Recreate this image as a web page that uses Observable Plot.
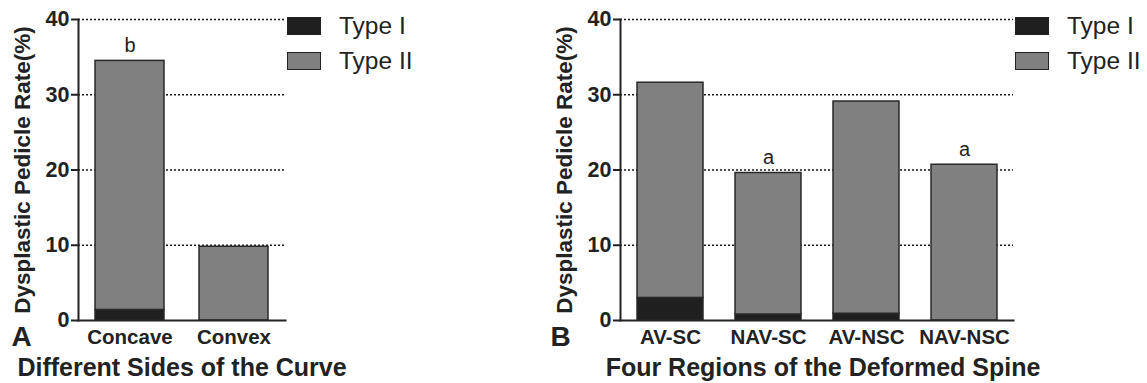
<!DOCTYPE html>
<html><head><meta charset="utf-8">
<script src="https://cdn.jsdelivr.net/npm/d3@7"></script>
<script src="https://cdn.jsdelivr.net/npm/@observablehq/plot@0.6"></script>
<style>
body{margin:0;background:#fff;}
#wrap{position:relative;width:1147px;height:383px;display:flex;font-family:"Liberation Sans",Arial,sans-serif;overflow:hidden;}
.sw{position:absolute;width:34px;height:18px;border:1.5px solid #222;box-sizing:border-box;}
.lt{position:absolute;font-size:24.5px;color:#222;line-height:24px;white-space:nowrap;}
</style></head><body><div id="wrap"></div>
<script>
// ---- data ----
const types = ["Type I", "Type II"];
const typeColors = ["#1f1f1f", "#808080"];
const yTicks = [0, 10, 20, 30, 40];
const gridValues = [10, 20, 30, 40];
const yLabel = "Dysplastic Pedicle Rate(%)";

const groupsA = ["Concave", "Convex"];
const typeIA = [1.4, 0];
const typeIIA = [33.1, 9.8];
const lettersA = ["b", ""];
const titleA = "Different Sides of the Curve";
const panelA = "A";

const groupsB = ["AV-SC", "NAV-SC", "AV-NSC", "NAV-NSC"];
const typeIB = [3.0, 0.8, 0.9, 0];
const typeIIB = [28.6, 18.8, 28.2, 20.7];
const lettersB = ["", "a", "", "a"];
const titleB = "Four Regions of the Deformed Spine";
const panelB = "B";

function panel(o) {
  const rows = [];
  o.groups.forEach((g, i) => {
    rows.push({g, type: types[0], v: o.t1[i]});
    rows.push({g, type: types[1], v: o.t2[i]});
  });
  const tops = o.groups.map((g, i) => ({g, total: o.t1[i] + o.t2[i], label: o.letters[i]}));
  return Plot.plot({
    width: o.width, height: 383,
    marginLeft: o.ml, marginRight: o.mr, marginTop: 19, marginBottom: 63,
    style: {fontFamily: '"Liberation Sans", Arial, sans-serif', color: "#222", background: "#fff", overflow: "visible"},
    x: {domain: o.groups, paddingInner: o.pi, paddingOuter: o.po, label: null},
    y: {domain: [0, 40], label: null},
    color: {domain: types, range: typeColors},
    marks: [
      Plot.ruleY(gridValues, {stroke: "#1a1a1a", strokeWidth: 1.5, strokeDasharray: "2,2"}),
      Plot.barY(rows.filter(d => d.v > 0), {x: "g", y: "v", fill: "type", stroke: "#2a2a2a", strokeWidth: 1.5}),
      Plot.frame({anchor: "left", stroke: "#222", strokeWidth: 2}),
      Plot.frame({anchor: "bottom", stroke: "#222", strokeWidth: 2}),
      Plot.axisY({ticks: yTicks, tickSize: 7, tickPadding: 2, fontSize: 21.5, fontWeight: "bold", label: null, strokeWidth: 2}),
      Plot.axisX({tickSize: 0, tickPadding: 9, fontSize: 20.5, fontWeight: "bold", label: null}),
      Plot.text(tops, {x: "g", y: "total", text: "label", lineAnchor: "bottom", dy: -9, fontSize: 20}),
      Plot.text([yLabel], {frameAnchor: "left", textAnchor: "middle", lineAnchor: "middle", rotate: -90, dx: o.ylDx, fontSize: 22.5, fontWeight: "bold"}),
      Plot.text([o.title], {frameAnchor: "bottom", lineAnchor: "bottom", dy: 55, dx: o.titleDx, fontSize: 25, fontWeight: "bold"}),
      Plot.text([o.letter], {frameAnchor: "bottom-left", textAnchor: "start", lineAnchor: "bottom", dx: o.letterDx, dy: 25, fontSize: 28, fontWeight: "bold"})
    ]
  });
}

const wrap = document.getElementById("wrap");
wrap.appendChild(panel({groups: groupsA, t1: typeIA, t2: typeIIA, letters: lettersA, width: 540, ml: 78, mr: 255,
  pi: 0.34, po: 0.165, ylDx: -56, title: titleA, titleDx: 0, letter: panelA, letterDx: -67}));
wrap.appendChild(panel({groups: groupsB, t1: typeIB, t2: typeIIB, letters: lettersB, width: 607, ml: 80, mr: 134,
  pi: 0.33, po: 0.163, ylDx: -56, title: titleB, titleDx: 6, letter: panelB, letterDx: -70}));

// legends (HTML)
function legend(left) {
  types.forEach((t, i) => {
    const sw = document.createElement("div");
    sw.className = "sw";
    sw.style.left = left + "px";
    sw.style.top = (17 + i * 35) + "px";
    sw.style.background = typeColors[i];
    wrap.appendChild(sw);
    const lt = document.createElement("div");
    lt.className = "lt";
    lt.style.left = (left + 52) + "px";
    lt.style.top = (14 + i * 35) + "px";
    lt.textContent = t;
    wrap.appendChild(lt);
  });
}
legend(287);
legend(1015);
</script>
</body></html>
